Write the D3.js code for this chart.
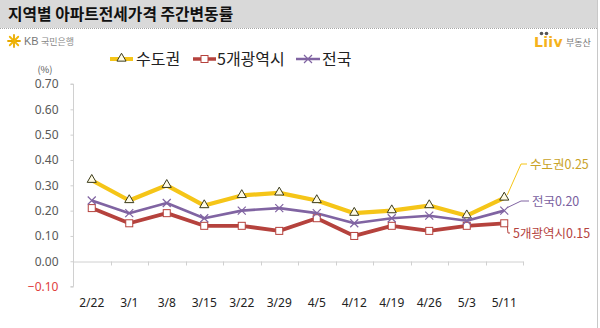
<!DOCTYPE html>
<html><head><meta charset="utf-8">
<script src="https://cdn.jsdelivr.net/npm/d3@7"></script>
<style>body{margin:0;background:#fff;}svg{display:block;font-family:"Noto Sans CJK KR","Noto Sans",sans-serif;}</style>
</head><body>
<svg id="c" width="600" height="328"></svg>
<script>
const categories = ["2/22","3/1","3/8","3/15","3/22","3/29","4/5","4/12","4/19","4/26","5/3","5/11"];
const seriesNames = ["수도권","5개광역시","전국"];
const capital = [0.32,0.24,0.30,0.22,0.26,0.27,0.24,0.19,0.20,0.22,0.18,0.25];
const metro5 = [0.21,0.15,0.19,0.14,0.14,0.12,0.17,0.10,0.14,0.12,0.14,0.15];
const nation = [0.24,0.19,0.23,0.17,0.20,0.21,0.19,0.15,0.17,0.18,0.16,0.20];
const yTicks = [-0.10,0.00,0.10,0.20,0.30,0.40,0.50,0.60,0.70];

const svg = d3.select("#c");
// title bar
svg.append("rect").attr("x",0).attr("y",0).attr("width",597).attr("height",28).attr("fill","#d9d9d9");
svg.append("line").attr("x1",0).attr("x2",597).attr("y1",28.5).attr("y2",28.5).attr("stroke","#a6a6a6").attr("stroke-dasharray","1,1");
svg.append("line").attr("x1",597.5).attr("x2",597.5).attr("y1",0).attr("y2",328).attr("stroke","#c8c8c8");
svg.append("text").attr("x",8).attr("y",20).attr("font-size",15.8).attr("font-weight","bold").attr("fill","#111").text("지역별 아파트전세가격 주간변동률");

// KB logo
const kb = svg.append("g").attr("transform","translate(14,41)");
[0,45,90,135,180,225,270,315].forEach((a,i)=>{
  kb.append("line").attr("x1",0).attr("y1",0).attr("x2",6*Math.cos(a*Math.PI/180)).attr("y2",6*Math.sin(a*Math.PI/180))
    .attr("stroke", i%2? "#f2b705":"#e6a800").attr("stroke-width",1.8).attr("stroke-linecap","round");
});
svg.append("text").attr("x",24).attr("y",45).attr("font-size",11).attr("fill","#777").attr("font-family","Arial, 'Liberation Sans'").text("KB");
svg.append("text").attr("x",41).attr("y",45).attr("font-size",9).attr("fill","#888").text("국민은행");

// Liiv logo
svg.append("circle").attr("cx",541.5).attr("cy",33.5).attr("r",1.8).attr("fill","#555");
svg.append("circle").attr("cx",546.5).attr("cy",33.5).attr("r",1.8).attr("fill","#555");
svg.append("text").attr("x",534).attr("y",47).attr("font-size",14).attr("font-weight","bold").attr("fill","#f5b21c").attr("font-family","'DejaVu Sans',sans-serif").attr("letter-spacing",0.3).text("Liiv");
svg.append("text").attr("x",566).attr("y",46).attr("font-size",9).attr("fill","#777").text("부동산");

// scales
const x = d3.scaleBand().domain(categories).range([73,523]);
const y = d3.scaleLinear().domain([-0.10,0.70]).range([286.6,84]);

// y axis
const yAxis = svg.append("g").attr("transform","translate(73.5,0)")
  .call(d3.axisLeft(y).tickValues(yTicks).tickFormat(d3.format(".2f")).tickSize(3).tickPadding(12));
yAxis.select(".domain").attr("stroke","#d0d0d0").attr("d","M-3,"+y(0.7)+"H0V"+y(-0.1)+"H-3");
yAxis.selectAll(".tick line").attr("stroke","#d0d0d0");
yAxis.selectAll(".tick text").attr("font-size",12).attr("fill",d=>d<0?"#e04040":"#595959").attr("font-family","'Noto Sans','Open Sans',sans-serif");
svg.append("text").attr("x",45).attr("y",73).attr("text-anchor","middle").attr("font-size",9.5).attr("fill","#595959").text("(%)");

// zero line with ticks
const xAxis = svg.append("g").attr("transform","translate(0,"+(Math.round(y(0))+0.5)+")")
  .call(d3.axisBottom(x).tickSize(0).tickPadding(37));
xAxis.select(".domain").attr("stroke","#d0d0d0");
xAxis.selectAll(".tick text").attr("font-size",12).attr("fill","#222").attr("font-family","'Noto Sans','Open Sans',sans-serif");
categories.forEach((c,i)=>{
  if(i===0) return;
  xAxis.append("line").attr("x1",Math.round(x(c))+0.5).attr("x2",Math.round(x(c))+0.5).attr("y1",0).attr("y2",4).attr("stroke","#d0d0d0");
});
xAxis.append("line").attr("x1",523.5).attr("x2",523.5).attr("y1",0).attr("y2",4).attr("stroke","#d0d0d0");

const cx = d => x(d)+x.bandwidth()/2;
const line = d3.line().x((d,i)=>cx(categories[i])).y(d=>y(d));

// lines
svg.append("path").datum(capital).attr("d",line).attr("fill","none").attr("stroke","#f5c518").attr("stroke-width",4.2).attr("stroke-linejoin","round");
svg.append("path").datum(metro5).attr("d",line).attr("fill","none").attr("stroke","#b5423d").attr("stroke-width",3.8).attr("stroke-linejoin","round");
svg.append("path").datum(nation).attr("d",line).attr("fill","none").attr("stroke","#8064a2").attr("stroke-width",2.6).attr("stroke-linejoin","round");

// markers
const tri = d3.symbol().type(d3.symbolTriangle).size(36);
svg.selectAll(".mt").data(capital).join("path").attr("transform",(d,i)=>`translate(${cx(categories[i])},${y(d)-0.5})`)
  .attr("d",tri).attr("fill","#fffbe6").attr("stroke","#3a3a1a").attr("stroke-width",1);
svg.selectAll(".ms").data(metro5).join("rect").attr("x",(d,i)=>cx(categories[i])-3.5).attr("y",d=>y(d)-3.5)
  .attr("width",7).attr("height",7).attr("fill","#fff").attr("stroke","#b5423d").attr("stroke-width",1);
svg.selectAll(".mx").data(nation).join("path").attr("transform",(d,i)=>`translate(${cx(categories[i])},${y(d)})`)
  .attr("d","M-4,-4L4,4M-4,4L4,-4").attr("stroke","#8064a2").attr("stroke-width",1.2);

// legend
const lg = [
  {name:seriesNames[0], x:110, w:23, color:"#f5c518", sw:4, m:"tri", tx:136},
  {name:seriesNames[1], x:193, w:23, color:"#b5423d", sw:3.5, m:"sq", tx:217},
  {name:seriesNames[2], x:296, w:24, color:"#8064a2", sw:2.5, m:"x", tx:322}
];
lg.forEach(l=>{
  const yy=59;
  svg.append("line").attr("x1",l.x).attr("x2",l.x+l.w).attr("y1",yy).attr("y2",yy).attr("stroke",l.color).attr("stroke-width",l.sw);
  const mx=l.x+l.w/2;
  if(l.m==="tri") svg.append("path").attr("transform",`translate(${mx},${yy-0.5})`).attr("d",tri).attr("fill","#fffbe6").attr("stroke","#3a3a1a");
  if(l.m==="sq") svg.append("rect").attr("x",mx-3.5).attr("y",yy-3.5).attr("width",7).attr("height",7).attr("fill","#fff").attr("stroke",l.color);
  if(l.m==="x") svg.append("path").attr("transform",`translate(${mx},${yy})`).attr("d","M-4,-4L4,4M-4,4L4,-4").attr("stroke",l.color).attr("stroke-width",1.2);
  svg.append("text").attr("x",l.tx).attr("y",yy+5.5).attr("font-size",16).attr("fill","#222").text(l.name);
});

// end labels
const lastX = cx(categories[11]);
const endLabels = [
  {text:seriesNames[0]+d3.format(".2f")(capital[11]), v:capital[11], ly:164, tx:530, color:"#c9a227", lc:"#f5c518"},
  {text:seriesNames[2]+d3.format(".2f")(nation[11]), v:nation[11], ly:201, tx:532, color:"#7a5fa0", lc:"#8064a2"},
  {text:seriesNames[1]+d3.format(".2f")(metro5[11]), v:metro5[11], ly:233, tx:513, color:"#b5423d", lc:"#b5423d"}
];
endLabels.forEach((e,i)=>{
  const kx = i===2 ? 508 : 521;
  svg.append("path").attr("d",`M${lastX+3},${y(e.v)+(i===2?3:-3)}L${kx},${e.ly}H${e.tx-3}`).attr("fill","none").attr("stroke",e.lc).attr("stroke-width",1);
  svg.append("text").attr("x",e.tx).attr("y",e.ly+4.5).attr("font-size",12.5).attr("fill",e.color).text(e.text);
});
</script>
</body></html>
